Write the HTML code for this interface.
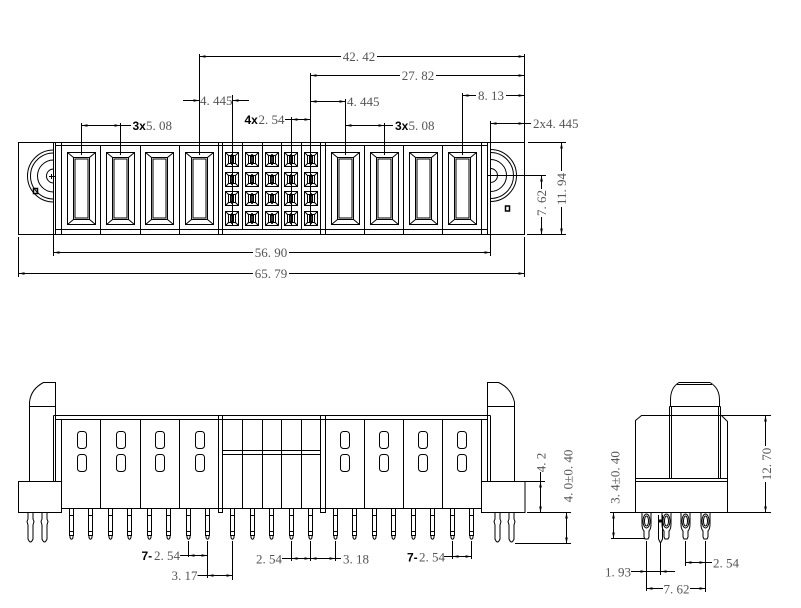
<!DOCTYPE html>
<html><head><meta charset="utf-8">
<style>
html,body{margin:0;padding:0;background:#fff;}
svg{display:block;}
.t{font-family:"Liberation Serif",serif;font-size:13px;fill:#555;}
.b{font-family:"Liberation Sans",sans-serif;font-size:12px;font-weight:bold;fill:#000;}
</style></head><body>
<svg width="801" height="608" viewBox="0 0 801 608" xmlns="http://www.w3.org/2000/svg">
<defs>
 <g id="pc" fill="none" stroke="#000">
  <rect x="0.5" y="0.5" width="28" height="72"/>
  <rect x="6.5" y="5.5" width="16" height="62"/>
  <rect x="8" y="7" width="13" height="59"/>
  <path d="M0.5,0.5L6.5,5.5M28.5,0.5L22.5,5.5M0.5,72.5L6.5,67.5M28.5,72.5L22.5,67.5"/>
 </g>
 <g id="si" fill="none" stroke="#000">
  <rect x="0.5" y="0.5" width="13" height="14"/>
  <rect x="3.5" y="3.5" width="7" height="8"/>
  <path d="M0.5,0.5L3.5,3.5M13.5,0.5L10.5,3.5M0.5,14.5L3.5,11.5M13.5,14.5L10.5,11.5"/>
  <rect x="5.5" y="4.5" width="3" height="6"/>
  <path d="M7,2V13" stroke-width="1.6"/>
 </g>
 <g id="fp" fill="none" stroke="#000">
  <path d="M-2,508.5V535.5H2V508.5M-2,515.5H2M-2,531.5H2"/>
  <path d="M-1.5,535.5V537.5Q0,541 1.5,537.5V535.5"/>
 </g>
 <g id="lp" fill="none" stroke="#000">
  <path d="M-2.5,512.5V519L-3.5,521.5L-2.5,525V539Q0,545 2.5,539V525L3.5,521.5L2.5,519V512.5"/>
 </g>
 <g id="sp" fill="none" stroke="#000">
  <path d="M-4.5,512.5V524Q-4.5,529 -2.5,531V537L-1.5,539H1.5L2.5,537V531Q4.5,529 4.5,524V512.5"/>
  <ellipse cx="0" cy="521" rx="2" ry="5"/>
  <ellipse cx="0" cy="521" rx="3.5" ry="7"/>
 </g>
 <path id="ar" d="M0,0L-6,-1.3L-6,1.3Z" fill="#000"/>
</defs>

<!-- ================= TOP VIEW ================= -->
<g fill="none" stroke="#000">
 <rect x="18.5" y="142.5" width="506" height="92"/>
 <path d="M53.5,142.5V234.5M55.5,142.5V234.5M61.5,142.5V234.5M100.5,145.5V234.5M140.5,145.5V234.5M179.5,145.5V234.5M218.5,142.5V234.5M222.5,142.5V234.5M242.5,142.5V229.5M262.5,142.5V229.5M281.5,142.5V229.5M301.5,142.5V229.5M320.5,142.5V234.5M325.5,142.5V234.5M364.5,145.5V234.5M403.5,145.5V234.5M442.5,145.5V234.5M481.5,142.5V234.5M487.5,142.5V234.5M490.5,142.5V234.5"/>
 <path d="M55.5,145.5H487.5M55.5,229.5H487.5"/>
 <path d="M53.5,150A26,26 0 0 0 53.5,202M53.5,153A23,23 0 0 0 53.5,199M53.5,160A16,16 0 0 0 53.5,192M53.5,169A7,7 0 0 0 53.5,183"/>
 <path d="M49,176.5H55M51.5,174V179"/>
 <rect x="33.5" y="188.5" width="4" height="5" stroke-width="1.5"/>
 <path d="M490.5,149.5A26,26 0 0 1 490.5,201.5M490.5,152.5A23,23 0 0 1 490.5,198.5M490.5,159.5A16,16 0 0 1 490.5,191.5M490.5,168.5A7,7 0 0 1 490.5,182.5"/>
 <path d="M488,175.5H494"/>
 <rect x="505.5" y="206" width="4" height="5" stroke-width="1.5"/>
</g>
<use href="#pc" x="67" y="152"/>
<use href="#pc" x="106" y="152"/>
<use href="#pc" x="145" y="152"/>
<use href="#pc" x="185" y="152"/>
<use href="#pc" x="331" y="152"/>
<use href="#pc" x="370" y="152"/>
<use href="#pc" x="409" y="152"/>
<use href="#pc" x="448" y="152"/>

<use href="#si" x="225" y="152"/><use href="#si" x="245" y="152"/><use href="#si" x="265" y="152"/><use href="#si" x="284" y="152"/><use href="#si" x="304" y="152"/>
<use href="#si" x="225" y="172"/><use href="#si" x="245" y="172"/><use href="#si" x="265" y="172"/><use href="#si" x="284" y="172"/><use href="#si" x="304" y="172"/>
<use href="#si" x="225" y="191"/><use href="#si" x="245" y="191"/><use href="#si" x="265" y="191"/><use href="#si" x="284" y="191"/><use href="#si" x="304" y="191"/>
<use href="#si" x="225" y="211"/><use href="#si" x="245" y="211"/><use href="#si" x="265" y="211"/><use href="#si" x="284" y="211"/><use href="#si" x="304" y="211"/>

<g fill="none" stroke="#000">
 <path d="M199.5,54V155M524.5,54V142.5M199.5,56.5H341M377,56.5H524.5"/>
 <path d="M310.5,73V226M310.5,75.5H400M436,75.5H524.5"/>
 <path d="M183,100.5H199.5M232.5,100.5H249M232.5,95V226"/>
 <path d="M285,119.5H310.5M291.5,117V226"/>
 <path d="M310.5,101.5H345.5M345.5,99V155"/>
 <path d="M345.5,125.5H393M384.5,123V155"/>
 <path d="M462.5,93V155M462.5,95.5H476M506,95.5H524.5"/>
 <path d="M490.5,121V142.5M490.5,123.5H531"/>
 <path d="M81.5,123V155M120.5,123V155M81.5,125.5H131"/>
 <path d="M53.5,234.5V256M490.5,234.5V256M53.5,252.5H253M289,252.5H490.5"/>
 <path d="M18.5,237V277M524.5,237V277M18.5,273.5H253M289,273.5H524.5"/>
 <path d="M528,142.5H566M527,234.5H566M561.5,142.5V171M561.5,207V234.5"/>
 <path d="M490.5,175.5H546M541.5,175.5V189M541.5,217V234.5"/>
</g>
<use href="#ar" transform="translate(199.5,56.5) rotate(180)"/>
<use href="#ar" transform="translate(524.5,56.5)"/>
<use href="#ar" transform="translate(310.5,75.5) rotate(180)"/>
<use href="#ar" transform="translate(524.5,75.5)"/>
<use href="#ar" transform="translate(199.5,100.5)"/>
<use href="#ar" transform="translate(232.5,100.5) rotate(180)"/>
<use href="#ar" transform="translate(291.5,119.5) rotate(180)"/>
<use href="#ar" transform="translate(310.5,119.5)"/>
<use href="#ar" transform="translate(310.5,101.5) rotate(180)"/>
<use href="#ar" transform="translate(345.5,101.5)"/>
<use href="#ar" transform="translate(345.5,125.5) rotate(180)"/>
<use href="#ar" transform="translate(384.5,125.5)"/>
<use href="#ar" transform="translate(462.5,95.5) rotate(180)"/>
<use href="#ar" transform="translate(524.5,95.5)"/>
<use href="#ar" transform="translate(490.5,123.5) rotate(180)"/>
<use href="#ar" transform="translate(524.5,123.5)"/>
<use href="#ar" transform="translate(81.5,125.5) rotate(180)"/>
<use href="#ar" transform="translate(120.5,125.5)"/>
<use href="#ar" transform="translate(53.5,252.5) rotate(180)"/>
<use href="#ar" transform="translate(490.5,252.5)"/>
<use href="#ar" transform="translate(18.5,273.5) rotate(180)"/>
<use href="#ar" transform="translate(524.5,273.5)"/>
<use href="#ar" transform="translate(561.5,142.5) rotate(-90)"/>
<use href="#ar" transform="translate(561.5,234.5) rotate(90)"/>
<use href="#ar" transform="translate(541.5,175.5) rotate(-90)"/>
<use href="#ar" transform="translate(541.5,234.5) rotate(90)"/>

<text class="t" x="359" y="61" text-anchor="middle">42. 42</text>
<text class="t" x="418" y="80" text-anchor="middle">27. 82</text>
<text class="t" x="200" y="105">4. 445</text>
<text class="b" x="244.5" y="124">4x</text>
<text class="t" x="258.5" y="124">2. 54</text>
<text class="t" x="347" y="106">4. 445</text>
<text class="b" x="395" y="130">3x</text>
<text class="t" x="408.5" y="130">5. 08</text>
<text class="t" x="478" y="100">8. 13</text>
<text class="t" x="533" y="128">2x4. 445</text>
<text class="b" x="132.5" y="130">3x</text>
<text class="t" x="146" y="130">5. 08</text>
<text class="t" x="271" y="257" text-anchor="middle">56. 90</text>
<text class="t" x="271" y="278" text-anchor="middle">65. 79</text>
<text class="t" text-anchor="middle" transform="translate(566,189) rotate(-90)">11. 94</text>
<text class="t" text-anchor="middle" transform="translate(546,203) rotate(-90)">7. 62</text>

<!-- ================= FRONT VIEW ================= -->
<g fill="none" stroke="#000">
 <path d="M29.5,481V402Q31,389 43.5,382.5H55.5V481"/>
 <path d="M29.5,406.5H55.5M53.5,415.5V481"/>
 <rect x="18.5" y="481.5" width="43" height="31"/>
 <path d="M487.5,481V382.5H498.5Q511,388 514.5,402V481"/>
 <path d="M487.5,406.5H514.5M490.5,415.5V481"/>
 <rect x="481.5" y="481.5" width="43.5" height="31"/>
 <path d="M53.5,415.5H490.5M55.5,419.5H487.5M61.5,419.5V508.5H481.5V419.5"/>
 <path d="M100.5,419.5V508.5M140.5,419.5V508.5M179.5,419.5V508.5M242.5,419.5V508.5M262.5,419.5V508.5M281.5,419.5V508.5M301.5,419.5V508.5M364.5,419.5V508.5M403.5,419.5V508.5M442.5,419.5V508.5"/>
 <path d="M218.5,415.5V512.5H222.5V415.5M320.5,415.5V512.5H325.5V415.5"/>
 <path d="M222.5,450.5H320.5M222.5,454.5H320.5"/>
 <rect x="77.5" y="431.5" width="9" height="17" rx="3"/><rect x="77.5" y="454.5" width="9" height="17" rx="3"/>
 <rect x="116.5" y="431.5" width="9" height="17" rx="3"/><rect x="116.5" y="454.5" width="9" height="17" rx="3"/>
 <rect x="155.5" y="431.5" width="9" height="17" rx="3"/><rect x="155.5" y="454.5" width="9" height="17" rx="3"/>
 <rect x="195.5" y="431.5" width="9" height="17" rx="3"/><rect x="195.5" y="454.5" width="9" height="17" rx="3"/>
 <rect x="340.5" y="431.5" width="9" height="17" rx="3"/><rect x="340.5" y="454.5" width="9" height="17" rx="3"/>
 <rect x="379.5" y="431.5" width="9" height="17" rx="3"/><rect x="379.5" y="454.5" width="9" height="17" rx="3"/>
 <rect x="418.5" y="431.5" width="9" height="17" rx="3"/><rect x="418.5" y="454.5" width="9" height="17" rx="3"/>
 <rect x="457.5" y="431.5" width="9" height="17" rx="3"/><rect x="457.5" y="454.5" width="9" height="17" rx="3"/>
</g>
<use href="#fp" x="71.5"/><use href="#fp" x="90.5"/><use href="#fp" x="110.5"/><use href="#fp" x="129.5"/>
<use href="#fp" x="149.5"/><use href="#fp" x="168.5"/><use href="#fp" x="188.5"/><use href="#fp" x="207.5"/>
<use href="#fp" x="232.5"/><use href="#fp" x="252.5"/><use href="#fp" x="271.5"/><use href="#fp" x="291.5"/><use href="#fp" x="310.5"/>
<use href="#fp" x="335.5"/><use href="#fp" x="354.5"/><use href="#fp" x="374.5"/><use href="#fp" x="393.5"/>
<use href="#fp" x="413.5"/><use href="#fp" x="432.5"/><use href="#fp" x="452.5"/><use href="#fp" x="471.5"/>
<use href="#lp" x="30.5"/><use href="#lp" x="44.5"/><use href="#lp" x="497.5"/><use href="#lp" x="511.5"/>

<g fill="none" stroke="#000">
 <path d="M525,481.5H545M540.5,472V512.5"/>
 <path d="M527,512.5H571M515,543.5H571M566.5,512.5V543.5"/>
 <path d="M188.5,541V557M207.5,541V578M180,555.5H207.5"/>
 <path d="M232.5,541V580M197.5,575.5H232.5"/>
 <path d="M291.5,541V561M310.5,541V561M335.5,541V561M282,558.5H341"/>
 <path d="M452.5,541V559M471.5,541V559M444,556.5H471.5"/>
</g>
<use href="#ar" transform="translate(540.5,481.5) rotate(-90)"/>
<use href="#ar" transform="translate(540.5,512.5) rotate(90)"/>
<use href="#ar" transform="translate(566.5,512.5) rotate(-90)"/>
<use href="#ar" transform="translate(566.5,543.5) rotate(90)"/>
<use href="#ar" transform="translate(188.5,555.5) rotate(180)"/>
<use href="#ar" transform="translate(207.5,555.5)"/>
<use href="#ar" transform="translate(207.5,575.5) rotate(180)"/>
<use href="#ar" transform="translate(232.5,575.5)"/>
<use href="#ar" transform="translate(291.5,558.5) rotate(180)"/>
<use href="#ar" transform="translate(310.5,558.5)"/>
<use href="#ar" transform="translate(310.5,558.5) rotate(180)"/>
<use href="#ar" transform="translate(335.5,558.5)"/>
<use href="#ar" transform="translate(452.5,556.5) rotate(180)"/>
<use href="#ar" transform="translate(471.5,556.5)"/>

<text class="t" text-anchor="middle" transform="translate(545.5,462.5) rotate(-90)">4. 2</text>
<text class="t" text-anchor="middle" transform="translate(572.5,476) rotate(-90)">4. 0±0. 40</text>
<text class="b" x="141.5" y="560">7-</text>
<text class="t" x="154" y="560">2. 54</text>
<text class="t" x="171.5" y="580">3. 17</text>
<text class="t" x="256" y="563.5">2. 54</text>
<text class="t" x="343" y="563.5">3. 18</text>
<text class="b" x="407" y="561.5">7-</text>
<text class="t" x="419" y="561.5">2. 54</text>

<!-- ================= SIDE VIEW ================= -->
<g fill="none" stroke="#000">
 <path d="M635.5,420.5L641.5,415.5H721.5L727.5,421.5V512.5H635.5Z"/>
 <path d="M635.5,478.5H727.5M635.5,481.5H727.5"/>
 <path d="M669.5,406.5V478.5M671.5,406.5V478.5M718.5,406.5V478.5M720.5,406.5V478.5"/>
 <path d="M669.5,406.5H720.5"/>
 <path d="M670.5,406.5V400C670.5,392 673,386 679,382.5H710C716,386 719.5,392 719.5,400V406.5"/>
 <path d="M677,384.5H712"/>
</g>
<use href="#sp" x="646.5"/><use href="#sp" x="666.5"/><use href="#sp" x="685.5"/><use href="#sp" x="705.5"/>
<g fill="none" stroke="#000">
 <path d="M658.5,515V539L660.5,543L662.5,539V515"/>
</g>
<rect x="658" y="519.5" width="5" height="3" fill="#000"/>

<g fill="none" stroke="#000">
 <path d="M721.5,415.5H771M727.5,512.5H771M765.5,415.5V446M765.5,482V512.5"/>
 <path d="M610,512.5H635.5M611,538.5H645M613.5,512.5V538.5"/>
 <path d="M685.5,541V566M705.5,541V592M685.5,562.5H712"/>
 <path d="M646.5,541V591M660.5,543V575M631,571.5H675"/>
 <path d="M646.5,588.5H663M690,588.5H705.5"/>
</g>
<use href="#ar" transform="translate(765.5,415.5) rotate(-90)"/>
<use href="#ar" transform="translate(765.5,512.5) rotate(90)"/>
<use href="#ar" transform="translate(613.5,512.5) rotate(-90)"/>
<use href="#ar" transform="translate(613.5,538.5) rotate(90)"/>
<use href="#ar" transform="translate(685.5,562.5) rotate(180)"/>
<use href="#ar" transform="translate(705.5,562.5)"/>
<use href="#ar" transform="translate(646.5,571.5)"/>
<use href="#ar" transform="translate(660.5,571.5) rotate(180)"/>
<use href="#ar" transform="translate(646.5,588.5) rotate(180)"/>
<use href="#ar" transform="translate(705.5,588.5)"/>

<text class="t" text-anchor="middle" transform="translate(771,464) rotate(-90)">12. 70</text>
<text class="t" text-anchor="middle" transform="translate(619.5,477.5) rotate(-90)">3. 4±0. 40</text>
<text class="t" x="713" y="567.5">2. 54</text>
<text class="t" x="605" y="576.5">1. 93</text>
<text class="t" x="663.5" y="593.5">7. 62</text>
</svg>
</body></html>
